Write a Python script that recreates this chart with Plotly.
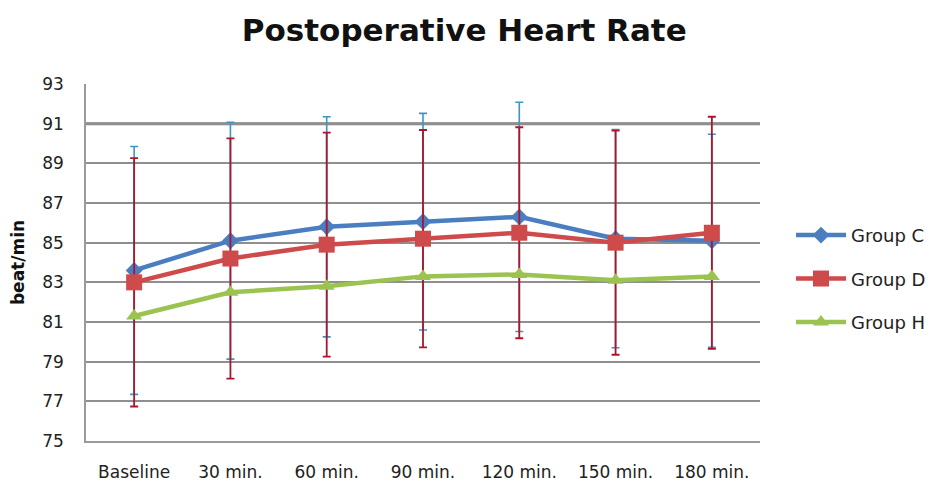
import plotly.graph_objects as go

categories = ["Baseline", "30 min.", "60 min.", "90 min.", "120 min.", "150 min.", "180 min."]
group_c = [83.6, 85.1, 85.8, 86.06, 86.3, 85.2, 85.1]
group_c_err = [6.25, 5.97, 5.55, 5.46, 5.78, 5.5, 5.37]
group_d = [83.0, 84.2, 84.9, 85.2, 85.5, 85.0, 85.5]
group_d_err = [6.26, 6.06, 5.65, 5.48, 5.32, 5.65, 5.85]
group_h = [81.3, 82.5, 82.8, 83.3, 83.4, 83.1, 83.3]
y_ticks = [75, 77, 79, 81, 83, 85, 87, 89, 91, 93]

FONT = "DejaVu Sans"

fig = go.Figure()
fig.add_trace(go.Scatter(
    x=categories, y=group_c, name="Group C", mode="lines+markers",
    line=dict(color="#4A7EC0", width=4.5),
    marker=dict(symbol="diamond", size=13, color="#4A7EC0"),
    error_y=dict(type="data", array=group_c_err, visible=True,
                 color="#3E95C2", thickness=1.6, width=4),
    legendgroup="c",
))
fig.add_trace(go.Scatter(
    x=categories, y=group_d, name="Group D", mode="lines+markers",
    line=dict(color="#CF4A4A", width=4.5),
    marker=dict(symbol="square", size=16, color="#CF4A4A"),
    error_y=dict(type="data", array=group_d_err, visible=True,
                 color="#A8172C", thickness=1.8, width=4),
    legendgroup="d",
))
fig.add_trace(go.Scatter(
    x=categories, y=group_h, name="Group H", mode="lines+markers",
    line=dict(color="#9BC34F", width=4.5),
    marker=dict(symbol="triangle-up", size=14, color="#9BC34F"),
    legendgroup="h",
))

fig.add_shape(type="line", xref="paper", yref="y", x0=0, x1=1, y0=91, y1=91,
              line=dict(color="#7a7a7a", width=3), layer="below")

fig.update_layout(
    width=935, height=482,
    margin=dict(l=78, r=181, t=76, b=49),
    paper_bgcolor="white", plot_bgcolor="white",
    font=dict(family=FONT, color="#222222", size=17),
    title=dict(text="<b>Postoperative Heart Rate</b>", x=0.488, xanchor="center",
               y=0.955, yanchor="middle",
               font=dict(family=FONT, size=31, color="#111111")),
    legend=dict(x=1.046, y=0.454, xanchor="left", yanchor="middle",
                font=dict(family=FONT, size=18, color="#222222"),
                tracegroupgap=17, itemwidth=50, bgcolor="rgba(0,0,0,0)"),
    xaxis=dict(type="category", categoryorder="array", categoryarray=categories,
               showgrid=False, showline=True, linecolor="#9a9a9a", linewidth=1.5,
               ticks="", ticklabelstandoff=15, automargin=False,
               tickfont=dict(family=FONT, size=17, color="#222222"),
               range=[-0.5, 6.5]),
    yaxis=dict(range=[75, 93], tickvals=y_ticks, showgrid=True,
               gridcolor="#8f8f8f", gridwidth=1.5, showline=True,
               linecolor="#9a9a9a", linewidth=1.5, zeroline=False,
               ticks="", ticklabelstandoff=17, automargin=False,
               tickfont=dict(family=FONT, size=17, color="#222222"),
               title=dict(text="<b>beat/min</b>", standoff=14,
                          font=dict(family=FONT, size=17, color="#111111"))),
)

fig.write_html("out.html")
